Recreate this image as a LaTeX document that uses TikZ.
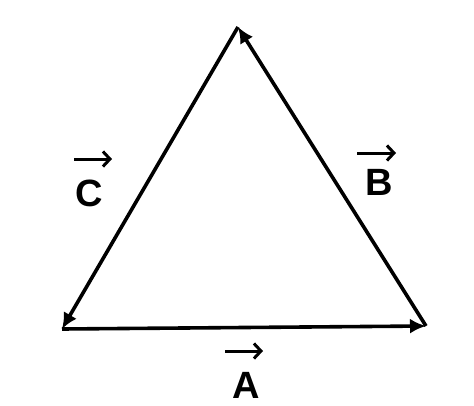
\documentclass[tikz,border=0pt]{standalone}
\usepackage{fontspec}
\setmainfont{Liberation Sans}
\usetikzlibrary{arrows.meta}
\begin{document}
\begin{tikzpicture}[x=1pt,y=-1pt,
  vec/.style={line width=3.6pt,-{Latex[length=16pt,width=15pt]}},
  lab/.style={font=\fontsize{38}{40}\selectfont\bfseries},
  over/.style={line width=3pt,-{Straight Barb[length=7pt,width=15pt,line width=3pt]}}]
\useasboundingbox (0,0) rectangle (474,405);
\coordinate (T) at (238,27);
\coordinate (L) at (62,329);
\coordinate (R) at (426,326);
\draw[vec] (L) -- (R);
\draw[vec] (R) -- (T);
\draw[vec] (T) -- (L);
\node[lab] (la) at (246,385) {A};
\node[lab] (lb) at (379,182) {B};
\node[lab] (lc) at (89,193) {C};
\coordinate (a1) at (225,351); \coordinate (a2) at (263,351);
\coordinate (b1) at (357,153); \coordinate (b2) at (396,153);
\coordinate (c1) at (74,159); \coordinate (c2) at (112,159);
\draw[over] (a1) -- (a2);
\draw[over] (b1) -- (b2);
\draw[over] (c1) -- (c2);
\end{tikzpicture}
\end{document}
